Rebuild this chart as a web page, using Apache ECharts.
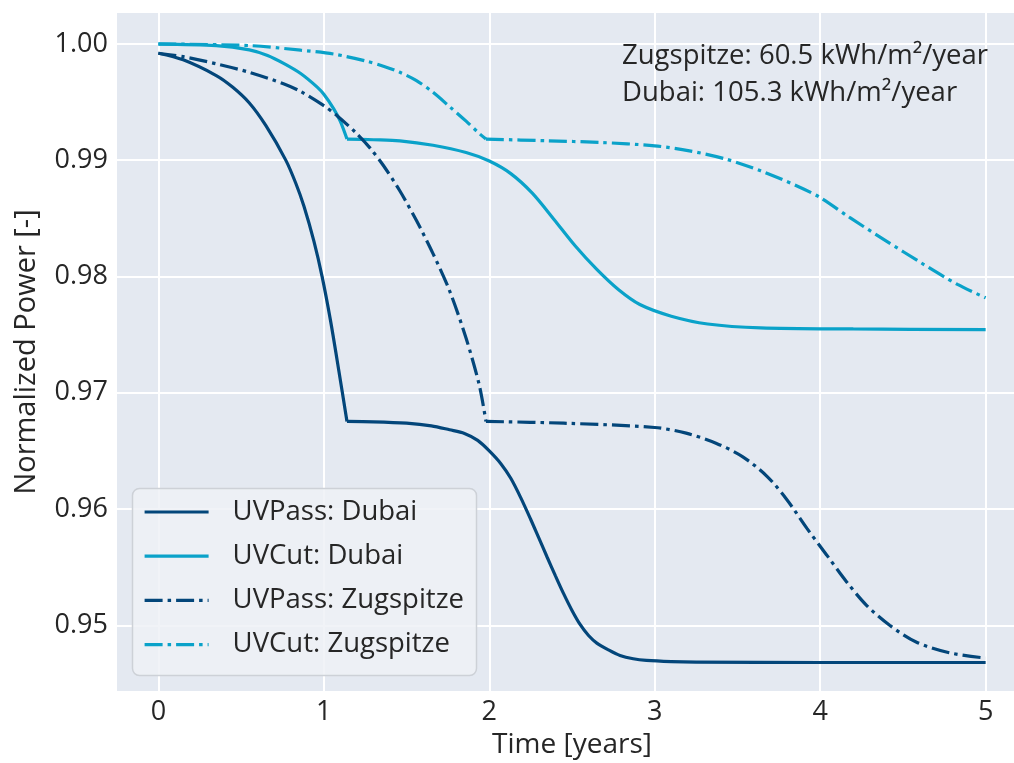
<!DOCTYPE html>
<html>
<head>
<meta charset="utf-8">
<script src="https://cdn.jsdelivr.net/npm/echarts@6/dist/echarts.min.js"></script>
<style>
html,body{margin:0;padding:0;background:#fff;}
#chart{width:1014px;height:763px;}
</style>
</head>
<body>
<div id="chart"></div>
<script>
// ---- data ----
const seriesNames = ['UVPass: Dubai', 'UVCut: Dubai', 'UVPass: Zugspitze', 'UVCut: Zugspitze'];

// time (years) of the sharp kink in each curve
const kinkDubai = 1.14;
const kinkZugspitze = 1.98;

const tUVPassDubai = [0, 0.15, 0.35, 0.45, 0.55, 0.65, 0.77, 0.83, 0.88, 0.94, 0.99, 1.04, 1.09, 1.14, 1.3, 1.5, 1.65, 1.76, 1.85, 1.93, 2.0, 2.07, 2.13, 2.19, 2.25, 2.30, 2.35, 2.40, 2.45, 2.50, 2.55, 2.60, 2.65, 2.72, 2.79, 2.87, 2.95, 3.1, 3.25, 4.0, 5.0];
const vUVPassDubai = [0.99919, 0.99862, 0.99727, 0.99626, 0.99491, 0.99296, 0.99000, 0.98803, 0.98603, 0.98303, 0.97996, 0.97624, 0.97196, 0.96753, 0.96750, 0.96738, 0.96715, 0.96681, 0.96650, 0.96590, 0.96500, 0.96390, 0.96264, 0.96098, 0.95912, 0.95749, 0.95585, 0.95425, 0.95270, 0.95128, 0.95005, 0.94912, 0.94847, 0.94789, 0.94741, 0.94712, 0.94698, 0.94688, 0.94684, 0.94680, 0.94680];

const tUVCutDubai = [0, 0.35, 0.55, 0.66, 0.76, 0.86, 0.96, 1.00, 1.06, 1.10, 1.14, 1.30, 1.46, 1.66, 1.86, 2.0, 2.13, 2.26, 2.39, 2.52, 2.65, 2.78, 2.91, 3.1, 3.32, 3.64, 4.2, 5.0];
const vUVCutDubai = [0.99998, 0.99985, 0.99948, 0.99900, 0.99830, 0.99745, 0.99628, 0.99566, 0.99441, 0.99333, 0.99181, 0.99175, 0.99166, 0.99128, 0.99065, 0.98992, 0.98884, 0.98716, 0.98492, 0.98261, 0.98060, 0.97887, 0.97758, 0.97658, 0.97591, 0.97557, 0.97548, 0.97543];

const tUVPassZug = [0, 0.15, 0.35, 0.55, 0.76, 0.86, 1.0, 1.08, 1.2, 1.28, 1.36, 1.46, 1.56, 1.66, 1.76, 1.86, 1.94, 1.98, 2.45, 3.0, 3.19, 3.37, 3.53, 3.68, 3.80, 3.92, 4.04, 4.16, 4.28, 4.42, 4.58, 4.78, 5.0];
const vUVPassZug = [0.99919, 0.99890, 0.99828, 0.99755, 0.99655, 0.99590, 0.99468, 0.99382, 0.99227, 0.99103, 0.98954, 0.98734, 0.98480, 0.98196, 0.97877, 0.97468, 0.97063, 0.96753, 0.96738, 0.96701, 0.96652, 0.96566, 0.96451, 0.96279, 0.96078, 0.95833, 0.95603, 0.95373, 0.95172, 0.95000, 0.94856, 0.94764, 0.94718];

const tUVCutZug = [0, 0.55, 0.86, 1.06, 1.26, 1.36, 1.46, 1.56, 1.66, 1.76, 1.86, 1.94, 1.98, 2.35, 2.67, 3.0, 3.21, 3.43, 3.64, 3.86, 4.0, 4.18, 4.4, 4.61, 4.83, 5.0];
const vUVCutZug = [0.99999, 0.99985, 0.99945, 0.99912, 0.99850, 0.99808, 0.99755, 0.99684, 0.99583, 0.99460, 0.99335, 0.99228, 0.99181, 0.99166, 0.99152, 0.99123, 0.99080, 0.99009, 0.98908, 0.98778, 0.98678, 0.98505, 0.98304, 0.98117, 0.97931, 0.97816];

const xTicks = [0, 1, 2, 3, 4, 5];
const yTicks = [0.95, 0.96, 0.97, 0.98, 0.99, 1.00];
const annotationLines = ['Zugspitze: 60.5 kWh/m²/year', 'Dubai: 105.3 kWh/m²/year'];
const xName = 'Time [years]';
const yName = 'Normalized Power [-]';

// ---- chart ----
const DARK = '#03467A';
const LIGHT = '#0AA2C9';
const TEXT = '#262626';
const FONT = 'Open Sans';
const DASHDOT = [18, 5, 3.5, 5];

function pairs(t, v) { return t.map((x, i) => [x, v[i]]); }
// split a curve at its kink so the smoothing does not round the corner
function splitAt(t, v, k) {
  const all = pairs(t, v);
  return [all.filter(p => p[0] <= k), all.filter(p => p[0] >= k)];
}

const seriesDefs = [
  { t: tUVPassDubai, v: vUVPassDubai, k: kinkDubai, color: DARK, dash: 'solid' },
  { t: tUVCutDubai, v: vUVCutDubai, k: kinkDubai, color: LIGHT, dash: 'solid' },
  { t: tUVPassZug, v: vUVPassZug, k: kinkZugspitze, color: DARK, dash: DASHDOT },
  { t: tUVCutZug, v: vUVCutZug, k: kinkZugspitze, color: LIGHT, dash: DASHDOT }
];

const series = [];
seriesDefs.forEach((s, i) => {
  splitAt(s.t, s.v, s.k).forEach(part => {
    series.push({
      name: seriesNames[i],
      type: 'line',
      data: part,
      symbol: 'none',
      smooth: 0.3,
      lineStyle: { color: s.color, width: 3.2, type: s.dash, cap: 'butt' },
      itemStyle: { color: s.color }
    });
  });
});

const chart = echarts.init(document.getElementById('chart'), null, { renderer: 'canvas' });

const option = {
  animation: false,
  backgroundColor: '#ffffff',
  textStyle: { fontFamily: FONT },
  grid: {
    left: 117, top: 13, width: 910, bottom: 72,
    outerBoundsMode: 'none', containLabel: false,
    show: true, backgroundColor: '#E4E9F1', borderWidth: 0
  },
  xAxis: {
    type: 'value', min: -0.25, max: 5.25,
    name: xName, nameLocation: 'middle', nameGap: 40,
    nameTextStyle: { fontSize: 28, color: TEXT, fontFamily: FONT },
    axisLine: { show: false },
    axisTick: { show: false, customValues: xTicks },
    axisLabel: { customValues: xTicks, fontSize: 27, color: TEXT, margin: 8, fontFamily: FONT },
    splitLine: { show: true, lineStyle: { color: '#ffffff', width: 2 } }
  },
  yAxis: {
    type: 'value', min: 0.94435, max: 1.00265,
    name: yName, nameLocation: 'middle', nameGap: 76, nameRotate: 90,
    nameTextStyle: { fontSize: 29, color: TEXT, fontFamily: FONT },
    axisLine: { show: false },
    axisTick: { show: false, customValues: yTicks },
    axisLabel: { customValues: yTicks, fontSize: 27, color: TEXT, margin: 9, fontFamily: FONT,
      formatter: v => v.toFixed(2) },
    splitLine: { show: true, lineStyle: { color: '#ffffff', width: 2 } }
  },
  legend: {
    orient: 'vertical', left: 132, top: 488,
    padding: [9, 14, 15, 11],
    itemWidth: 64, itemHeight: 30, itemGap: 14.2,
    itemStyle: { color: 'rgba(0,0,0,0)', borderColor: 'rgba(0,0,0,0)', borderWidth: 0 },
    lineStyle: { width: 3.2 },
    textStyle: { fontSize: 27.5, color: TEXT, fontFamily: FONT, lineHeight: 30, padding: [0, 0, 0, 19] },
    data: seriesNames,
    z: 10
  },
  graphic: [
    {
      type: 'rect', z: 5,
      shape: { x: 132.5, y: 488.5, width: 344, height: 187, r: 7 },
      style: { fill: 'rgba(238,241,246,0.85)', stroke: '#CDD1D7', lineWidth: 1.5 }
    },
    {
      type: 'text', z: 6, left: 622, top: 38,
      style: { text: annotationLines.join('\n'), fontSize: 27.5, lineHeight: 37, fill: TEXT, fontFamily: FONT }
    }
  ],
  series: series
};

chart.setOption(option);
</script>
</body>
</html>
